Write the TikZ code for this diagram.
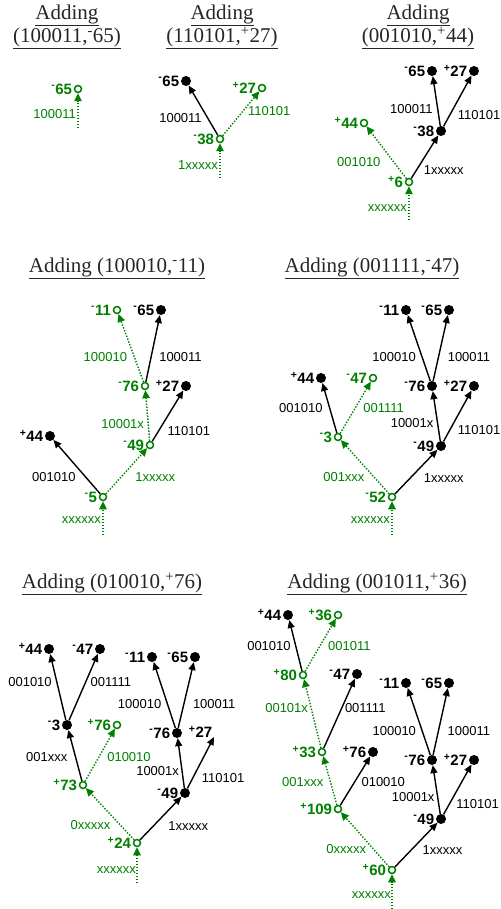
\documentclass[tikz,border=0pt]{standalone}
\usepackage{fontspec}
\setmainfont{Liberation Sans}
\newfontfamily\titlefont{Liberation Serif}
\usetikzlibrary{arrows.meta}
\definecolor{grn}{RGB}{0,128,0}
\newcommand{\mv}{\textsuperscript{-}}
\newcommand{\pv}{\textsuperscript{+}}

\tikzset{
  known/.style={circle, fill, inner sep=0pt, minimum size=10pt},
  fresh/.style={circle, draw=grn, line width=1.5pt, fill=white, inner sep=0pt, minimum size=7pt},
  val/.style={font=\fontsize{15}{15}\selectfont\bfseries, inner sep=0.5pt},
  bit/.style={font=\fontsize{13}{13}\selectfont, inner sep=0.5pt},
  link/.style={-{Triangle[length=8pt,width=7pt]}, line width=1.4pt},
  walk/.style={-{Triangle[length=8pt,width=7.5pt]}, grn, line width=1.4pt, dash pattern=on 1.4pt off 1.6pt},
  ttl/.style={font=\titlefont\fontsize{21}{23}\selectfont, text=black!85, align=center, inner sep=0pt}
}

\begin{document}
\begin{tikzpicture}[x=1pt, y=-1pt, every label/.style={label distance=1pt}]
    \useasboundingbox (0,0) rectangle (500,909);

    \node[ttl] (ta) at (67,27) {\underline{Adding}\\\underline{(100011,\mv65)}};
    \node[ttl] (tb) at (222,27) {\underline{Adding}\\\underline{(110101,\pv27)}};
    \node[ttl] (tc) at (418,27) {\underline{Adding}\\\underline{(001010,\pv44)}};
    \node[ttl] (td) at (117,268) {\underline{Adding (100010,\mv11)}};
    \node[ttl] (te) at (372,268) {\underline{Adding (001111,\mv47)}};
    \node[ttl] (tf) at (112,584) {\underline{Adding (010010,\pv76)}};
    \node[ttl] (tg) at (377,584) {\underline{Adding (001011,\pv36)}};

    \node[fresh, label={[val,grn]left:\mv65}] (a65) at (78,89) {};
    \coordinate (aIn) at (78,128);

    \draw[walk] (aIn) -- node[bit, left=1pt, pos=.41]{100011} (a65);

    \node[known, label={[val]left:\mv65}] (b65) at (186,81) {};
    \node[fresh, label={[val,grn]left:\mv38}] (b38) at (220,139) {};
    \node[fresh, label={[val,grn]left:\pv27}] (b27) at (262,88) {};
    \coordinate (bIn) at (220,178);

    \draw[walk] (bIn) -- node[bit, left=1pt, pos=.38]{1xxxxx} (b38);
    \draw[link] (b38) -- node[bit, left=5pt, pos=.34]{100011} (b65);
    \draw[walk] (b38) -- node[bit, right=4pt, pos=.55]{110101} (b27);

    \node[known, label={[val]left:\mv65}] (c65) at (432,71) {};
    \node[known, label={[val]left:\pv27}] (c27) at (474,71) {};
    \node[known, label={[val]left:\mv38}] (c38) at (441,131) {};
    \node[fresh, label={[val,grn]left:\pv6}] (c6) at (409,182) {};
    \node[fresh, label={[val,grn]left:\pv44}] (c44) at (364,123) {};
    \coordinate (cIn) at (409,220);

    \draw[walk] (cIn) -- node[bit, left=1pt, pos=.34]{xxxxxx} (c6);
    \draw[link] (c6) -- node[bit, right=6pt, pos=.2]{1xxxxx} (c38);
    \draw[walk] (c6) -- node[bit, left=12pt, pos=.32]{001010} (c44);
    \draw[link] (c38) -- node[bit, left=4pt, pos=.33]{100011} (c65);
    \draw[link] (c38) -- node[bit, right=7pt, pos=.22]{110101} (c27);

    \node[fresh, label={[val,grn]left:\mv11}] (d11) at (117,310) {};
    \node[known, label={[val]left:\mv65}] (d65) at (161,310) {};
    \node[fresh, label={[val,grn]left:\mv76}] (d76) at (145,386) {};
    \node[known, label={[val]left:\pv27}] (d27) at (186,386) {};
    \node[fresh, label={[val,grn]left:\mv49}] (d49) at (150,445) {};
    \node[known, label={[val]left:\pv44}] (d44) at (50,436) {};
    \node[fresh, label={[val,grn]left:\mv5}] (d5) at (103,497) {};
    \coordinate (dIn) at (103,535);

    \draw[walk] (dIn) -- node[bit, left=1pt, pos=.45]{xxxxxx} (d5);
    \draw[link] (d5) -- node[bit, left=9pt, pos=.31]{001010} (d44);
    \draw[walk] (d5) -- node[bit, right=13pt, pos=.37]{1xxxxx} (d49);
    \draw[link] (d49) -- node[bit, right=8pt, pos=.2]{110101} (d27);
    \draw[walk] (d49) -- node[bit, left=3pt, pos=.34]{10001x} (d76);
    \draw[link] (d76) -- node[bit, right=7pt, pos=.37]{100011} (d65);
    \draw[walk] (d76) -- node[bit, left=6pt, pos=.37]{100010} (d11);

    \node[known, label={[val]left:\mv11}] (e11) at (406,310) {};
    \node[known, label={[val]left:\mv65}] (e65) at (449,310) {};
    \node[known, label={[val]left:\mv76}] (e76) at (432,386) {};
    \node[known, label={[val]left:\pv27}] (e27) at (474,386) {};
    \node[known, label={[val]left:\mv49}] (e49) at (441,446) {};
    \node[known, label={[val]left:\pv44}] (e44) at (321,378) {};
    \node[fresh, label={[val,grn]left:\mv47}] (e47) at (373,378) {};
    \node[fresh, label={[val,grn]left:\mv3}] (e3) at (338,437) {};
    \node[fresh, label={[val,grn]left:\mv52}] (e52) at (392,497) {};
    \coordinate (eIn) at (392,535);

    \draw[walk] (eIn) -- node[bit, left=1pt, pos=.45]{xxxxxx} (e52);
    \draw[link] (e52) -- node[bit, right=12pt, pos=.37]{1xxxxx} (e49);
    \draw[walk] (e52) -- node[bit, left=8pt, pos=.32]{001xxx} (e3);
    \draw[link] (e3) -- node[bit, left=6pt, pos=.49]{001010} (e44);
    \draw[walk] (e3) -- node[bit, right=7pt, pos=.49]{001111} (e47);
    \draw[link] (e49) -- node[bit, left=3pt, pos=.35]{10001x} (e76);
    \draw[link] (e49) -- node[bit, right=7pt, pos=.22]{110101} (e27);
    \draw[link] (e76) -- node[bit, left=5pt, pos=.37]{100010} (e11);
    \draw[link] (e76) -- node[bit, right=8pt, pos=.37]{100011} (e65);

    \node[known, label={[val]left:\pv44}] (f44) at (49,649) {};
    \node[known, label={[val]left:\mv47}] (f47) at (100,649) {};
    \node[known, label={[val]left:\mv11}] (f11) at (152,657) {};
    \node[known, label={[val]left:\mv65}] (f65) at (195,657) {};
    \node[known, label={[val]left:\mv3}] (f3) at (67,725) {};
    \node[fresh, label={[val,grn]left:\pv76}] (f76) at (117,725) {};
    \node[known, label={[val]left:\mv76}] (f76b) at (177,733) {};
    \coordinate[label={[val, yshift=5pt]left:\pv27}] (f27) at (214,737);
    \node[fresh, label={[val,grn]left:\pv73}] (f73) at (83,785) {};
    \node[known, label={[val]left:\mv49}] (f49) at (185,793) {};
    \node[fresh, label={[val,grn]left:\pv24}] (f24) at (137,843) {};
    \coordinate (fIn) at (137,883);

    \draw[walk] (fIn) -- node[bit, left=0pt, pos=.375]{xxxxxx} (f24);
    \draw[link] (f24) -- node[bit, right=14pt, pos=.32]{1xxxxx} (f49);
    \draw[walk] (f24) -- node[bit, left=9pt, pos=.28]{0xxxxx} (f73);
    \draw[link] (f73) -- node[bit, left=7pt, pos=.47]{001xxx} (f3);
    \draw[walk] (f73) -- node[bit, right=7pt, pos=.47]{010010} (f76);
    \draw[link] (f3) -- node[bit, left=4pt, pos=.57]{001010} (f44);
    \draw[link] (f3) -- node[bit, right=4pt, pos=.57]{001111} (f47);
    \draw[link] (f49) -- node[bit, left=2pt, pos=.33]{10001x} (f76b);
    \draw[link] (f49) -- node[bit, right=8pt, pos=.2]{110101} (f27);
    \draw[link] (f76b) -- node[bit, left=5pt, pos=.36]{100010} (f11);
    \draw[link] (f76b) -- node[bit, right=8pt, pos=.36]{100011} (f65);

    \node[known, label={[val]left:\pv44}] (g44) at (288,615) {};
    \node[fresh, label={[val,grn]left:\pv36}] (g36) at (338,615) {};
    \node[fresh, label={[val,grn]left:\pv80}] (g80) at (303,675) {};
    \node[known, label={[val]left:\mv47}] (g47) at (357,674) {};
    \node[known, label={[val]left:\mv11}] (g11) at (406,683) {};
    \node[known, label={[val]left:\mv65}] (g65) at (449,683) {};
    \node[fresh, label={[val,grn]left:\pv33}] (g33) at (322,752) {};
    \node[known, label={[val]left:\pv76}] (g76) at (373,752) {};
    \node[known, label={[val]left:\mv76}] (g76b) at (432,760) {};
    \node[known, label={[val]left:\pv27}] (g27) at (474,760) {};
    \node[fresh, label={[val,grn]left:\pv109}] (g109) at (338,809) {};
    \node[known, label={[val]left:\mv49}] (g49) at (441,819) {};
    \node[fresh, label={[val,grn]left:\pv60}] (g60) at (392,870) {};
    \coordinate (gIn) at (392,909);

    \draw[walk] (gIn) -- node[bit, left=0pt, pos=.41]{xxxxxx} (g60);
    \draw[link] (g60) -- node[bit, right=10pt, pos=.39]{1xxxxx} (g49);
    \draw[walk] (g60) -- node[bit, left=6pt, pos=.33]{0xxxxx} (g109);
    \draw[link] (g109) -- node[bit, right=6pt, pos=.47]{010010} (g76);
    \draw[walk] (g109) -- node[bit, left=6pt, pos=.46]{001xxx} (g33);
    \draw[link] (g33) -- node[bit, right=2pt, pos=.58]{001111} (g47);
    \draw[walk] (g33) -- node[bit, left=2pt, pos=.58]{00101x} (g80);
    \draw[link] (g80) -- node[bit, left=4pt, pos=.48]{001010} (g44);
    \draw[walk] (g80) -- node[bit, right=7pt, pos=.48]{001011} (g36);
    \draw[link] (g49) -- node[bit, left=2pt, pos=.34]{10001x} (g76b);
    \draw[link] (g49) -- node[bit, right=6pt, pos=.2]{110101} (g27);
    \draw[link] (g76b) -- node[bit, left=5pt, pos=.36]{100010} (g11);
    \draw[link] (g76b) -- node[bit, right=8pt, pos=.36]{100011} (g65);

\end{tikzpicture}
\end{document}
